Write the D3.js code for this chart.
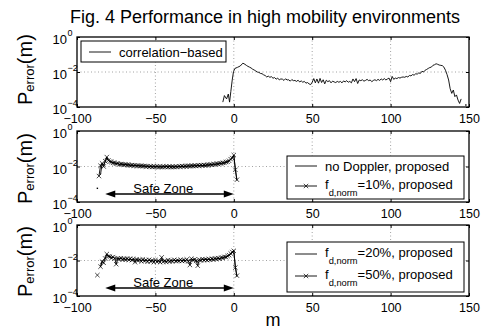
<!DOCTYPE html>
<html><head><meta charset="utf-8">
<script src="https://cdn.jsdelivr.net/npm/d3@7"></script>
<style>body{margin:0;background:#fff}svg{display:block}text{font-family:"Liberation Sans",Arial,Helvetica,sans-serif;fill:#000}</style>
</head><body><svg id="c" width="485" height="329"></svg>
<script>
// ---------------- data ----------------
const xTicks = [-100, -50, 0, 50, 100, 150];
const yTicks = [1e-4, 1e-2, 1];
const yTickExp = ["\u22124", "\u22122", "0"];
const gridX = [-50, 0, 50, 100];
const gridY = [1e-2];

// panel 1: correlation-based
const corrX = [-7,-6,-4.6,-3.5,-2.7,-1.9,-1,-0.2,0.7,2.4,4.1,5.8,7.1,
  8,9,10,11,12,13,14,15,16,17,18,19,20,21,22,23,24,25,26,27,28,29,30,
  31,32,33,34,35,36,37,38,39,40,41,42,43,44,45,46,47,48,49,50,
  51,52,53,54,55,56,57,58,59,60,61,62,63,64,65,66,67,68,69,70,
  71,72,73,74,75,76,77,78,79,80,81,82,83,84,85,86,87,88,89,90,
  91,92,93,94,95,96,97,98,99,100,101,102,103,104,105,106,107,108,109,110,
  111,112,113,114,115,116,117,118,119,120,121,122,123,124,125,126,127,128,129,130,
  131,132,133,134,135,136,137,138,139,140,141,142,143,144,145,146,148];
const corrY = [1.9e-4,4.5e-4,2.9e-4,5.5e-4,1.9e-4,7.6e-4,3.5e-3,1.05e-2,1.6e-2,1.85e-2,2.2e-2,3.2e-2,2.75e-2,
  2.4e-2,2.1e-2,1.9e-2,1.7e-2,1.45e-2,1.3e-2,1.15e-2,1.0e-2,9.5e-3,8.3e-3,8.0e-3,6.9e-3,6.3e-3,5.2e-3,5.8e-3,5.0e-3,5.4e-3,4.4e-3,4.8e-3,3.9e-3,4.4e-3,3.6e-3,4.0e-3,
  3.9e-3,3.3e-3,4.1e-3,3.5e-3,3.6e-3,3.0e-3,3.7e-3,3.2e-3,3.3e-3,2.9e-3,3.4e-3,2.7e-3,3.1e-3,2.6e-3,2.9e-3,2.3e-3,2.5e-3,2.1e-3,1.9e-3,2.6e-3,
  4.2e-3,2.4e-3,4.0e-3,2.3e-3,4.3e-3,2.5e-3,3.6e-3,2.1e-3,3.4e-3,2.8e-3,3.2e-3,2.4e-3,3.0e-3,2.7e-3,2.5e-3,2.9e-3,2.6e-3,2.9e-3,2.4e-3,3.1e-3,
  2.7e-3,3.2e-3,2.6e-3,2.9e-3,2.4e-3,4.0e-3,2.8e-3,4.2e-3,2.2e-3,3.5e-3,3.2e-3,3.6e-3,3.0e-3,3.3e-3,3.8e-3,3.2e-3,3.5e-3,2.8e-3,3.3e-3,3.6e-3,
  3.2e-3,3.8e-3,3.3e-3,4.0e-3,3.5e-3,4.2e-3,3.5e-3,4.0e-3,4.5e-3,2.8e-3,5.6e-3,3.8e-3,4.5e-3,4.2e-3,4.8e-3,4.5e-3,5.0e-3,5.2e-3,5.0e-3,5.6e-3,
  5.2e-3,6.3e-3,6.0e-3,7.1e-3,6.6e-3,7.9e-3,7.6e-3,8.9e-3,8.3e-3,1.1e-2,1.0e-2,1.26e-2,1.4e-2,1.6e-2,1.8e-2,1.9e-2,2.4e-2,2.6e-2,2.95e-2,2.75e-2,
  2.5e-2,2.4e-2,2.3e-2,1.9e-2,1.26e-2,7.1e-3,3.5e-3,1.1e-3,6.0e-4,9.3e-4,3.9e-4,4.9e-4,2.5e-4,1.6e-4,2.9e-4,null,1.3e-4];

// panels 2 and 3 share the same positions
const posX = [-87,-86,-85,-84,-83,-82,-81,-80,-79,-78,
  -77,-76,-75,-74,-73,-72,-71,-70,-69,-68,
  -67,-66,-65,-64,-63,-62,-61,-60,-59,-58,
  -57,-56,-55,-54,-53,-52,-51,-50,-49,-48,
  -47,-46,-45,-44,-43,-42,-41,-40,-39,-38,
  -37,-36,-35,-34,-33,-32,-31,-30,-29,-28,
  -27,-26,-25,-24,-23,-22,-21,-20,-19,-18,
  -17,-16,-15,-14,-13,-12,-11,-10,-9,-8,
  -7,-6,-5,-4,-3,-2,-1,0,1,2];
const noDopplerY = [5.9e-4,null,3.5e-3,1.5e-2,1.2e-2,1.9e-2,3.2e-2,2.3e-2,2.0e-2,1.75e-2,
  1.7e-2,1.55e-2,1.5e-2,1.45e-2,1.35e-2,1.4e-2,1.3e-2,1.32e-2,1.25e-2,1.28e-2,
  1.2e-2,1.22e-2,1.15e-2,1.18e-2,1.12e-2,1.15e-2,1.1e-2,1.12e-2,1.05e-2,1.1e-2,
  1.02e-2,1.06e-2,1.0e-2,1.04e-2,9.8e-3,1.02e-2,9.6e-3,1.0e-2,9.7e-3,1.0e-2,
  9.5e-3,9.9e-3,9.6e-3,1.0e-2,9.7e-3,1.01e-2,9.6e-3,9.9e-3,9.5e-3,9.8e-3,
  9.6e-3,1.0e-2,9.7e-3,1.02e-2,9.9e-3,1.04e-2,1.0e-2,1.05e-2,1.02e-2,1.07e-2,
  1.04e-2,1.09e-2,1.06e-2,1.12e-2,1.08e-2,1.14e-2,1.1e-2,1.16e-2,1.12e-2,1.2e-2,
  1.16e-2,1.24e-2,1.2e-2,1.3e-2,1.25e-2,1.35e-2,1.32e-2,1.45e-2,1.4e-2,1.55e-2,
  1.5e-2,1.7e-2,1.65e-2,1.9e-2,2.0e-2,2.4e-2,3.2e-2,4.2e-2,7.0e-3,1.6e-3];
const fd10Y = [null,2.9e-3,1.1e-2,1.5e-2,1.0e-2,2.0e-2,3.4e-2,2.2e-2,1.9e-2,1.8e-2,
  1.6e-2,1.6e-2,1.45e-2,1.5e-2,1.3e-2,1.38e-2,1.33e-2,1.25e-2,1.3e-2,1.2e-2,
  1.25e-2,1.15e-2,1.2e-2,1.1e-2,1.16e-2,1.08e-2,1.13e-2,1.06e-2,1.1e-2,1.03e-2,
  1.08e-2,9.9e-3,1.05e-2,9.6e-3,1.03e-2,9.4e-3,1.01e-2,9.5e-3,1.02e-2,9.3e-3,
  9.9e-3,9.2e-3,1.0e-2,9.4e-3,1.02e-2,9.3e-3,1.0e-2,9.2e-3,9.9e-3,9.3e-3,
  1.01e-2,9.4e-3,1.03e-2,9.7e-3,1.06e-2,9.8e-3,1.08e-2,1.0e-2,1.1e-2,1.02e-2,
  1.12e-2,1.05e-2,1.14e-2,1.07e-2,1.17e-2,1.1e-2,1.19e-2,1.13e-2,1.22e-2,1.15e-2,
  1.26e-2,1.19e-2,1.3e-2,1.24e-2,1.38e-2,1.3e-2,1.42e-2,1.38e-2,1.52e-2,1.47e-2,
  1.62e-2,1.6e-2,1.8e-2,1.85e-2,2.1e-2,2.6e-2,3.0e-2,4.4e-2,6.5e-3,1.8e-3];
const fd20Y = [null,null,4.5e-3,9.0e-3,1.1e-2,1.4e-2,2.2e-2,1.8e-2,1.6e-2,1.55e-2,
  1.5e-2,1.4e-2,1.3e-2,1.35e-2,1.25e-2,1.3e-2,1.2e-2,1.28e-2,1.18e-2,1.22e-2,
  1.15e-2,1.2e-2,1.12e-2,1.16e-2,1.08e-2,1.14e-2,1.05e-2,1.12e-2,1.04e-2,1.1e-2,
  1.02e-2,1.08e-2,9.8e-3,1.05e-2,9.6e-3,1.02e-2,9.4e-3,1.0e-2,9.2e-3,9.9e-3,
  9.0e-3,1.1e-2,9.3e-3,1.0e-2,9.1e-3,9.8e-3,9.4e-3,1.01e-2,9.5e-3,1.03e-2,
  9.6e-3,1.04e-2,9.8e-3,1.06e-2,9.9e-3,1.07e-2,1.0e-2,1.08e-2,1.02e-2,1.1e-2,
  1.0e-2,1.12e-2,1.04e-2,1.1e-2,9.0e-3,1.12e-2,1.05e-2,1.14e-2,1.08e-2,1.16e-2,
  1.1e-2,1.18e-2,1.12e-2,1.22e-2,1.15e-2,1.25e-2,1.2e-2,1.3e-2,1.26e-2,1.38e-2,
  1.35e-2,1.5e-2,1.5e-2,1.7e-2,1.9e-2,2.2e-2,2.8e-2,3.4e-2,4.5e-3,1.2e-3];
const fd50Y = [1.5e-3,null,4.5e-3,8.5e-3,7.5e-3,1.3e-2,2.3e-2,1.7e-2,1.65e-2,1.4e-2,
  1.55e-2,1.3e-2,6.2e-3,1.3e-2,1.2e-2,1.35e-2,1.15e-2,1.25e-2,1.1e-2,1.3e-2,
  1.1e-2,1.25e-2,1.05e-2,1.2e-2,8.0e-3,1.15e-2,1.0e-2,1.1e-2,9.0e-3,1.15e-2,
  9.5e-3,1.05e-2,8.5e-3,1.1e-2,9.0e-3,1.0e-2,8.0e-3,1.05e-2,8.5e-3,9.5e-3,
  8.0e-3,1.5e-2,8.5e-3,9.5e-3,8.2e-3,1.05e-2,8.8e-3,9.8e-3,9.0e-3,1.1e-2,
  9.2e-3,1.0e-2,9.5e-3,1.1e-2,9.4e-3,1.05e-2,9.6e-3,1.15e-2,9.0e-3,5.6e-3,
  1.25e-2,1.05e-2,1.15e-2,9.5e-3,5.1e-3,1.1e-2,1.0e-2,1.2e-2,1.05e-2,1.15e-2,
  1.05e-2,1.2e-2,1.1e-2,1.25e-2,1.15e-2,1.3e-2,1.2e-2,1.35e-2,1.25e-2,1.45e-2,
  1.4e-2,1.6e-2,1.55e-2,1.8e-2,2.0e-2,2.5e-2,3.0e-2,3.5e-2,4.0e-3,1.4e-3];

const safeZoneX = [-82, 0];
const safeZoneLevel = 2.8e-4;
const safeZoneLabelX = -45;

// ---------------- drawing ----------------
const svg = d3.select("#c");
const x = d3.scaleLinear().domain([-100, 150]).range([77, 469]);

const panels = [
  {top: 37, bottom: 107, labelBottom: 105,
   series: [{xs: corrX, ys: corrY, marker: false}],
   legend: {x0: 81, x1: 226, y0: 41, y1: 62, rows: [{y: 52, marker: false, main: "correlation\u2212based"}]},
   safe: false},
  {top: 131, bottom: 202, labelBottom: 204,
   series: [{xs: posX, ys: noDopplerY, marker: false}, {xs: posX, ys: fd10Y, marker: true}],
   legend: {x0: 287, x1: 464, y0: 156, y1: 199, rows: [
     {y: 166, marker: false, main: "no Doppler, proposed"},
     {y: 186, marker: true, f: true, main: "=10%, proposed"}]},
   safe: true},
  {top: 225, bottom: 296, labelBottom: 297,
   series: [{xs: posX, ys: fd20Y, marker: false}, {xs: posX, ys: fd50Y, marker: true}],
   legend: {x0: 287, x1: 464, y0: 242, y1: 292, rows: [
     {y: 254, marker: false, f: true, main: "=20%, proposed"},
     {y: 276, marker: true, f: true, main: "=50%, proposed"}]},
   safe: true}
];

const xMark = "M-2.2,-2.2L2.2,2.2M-2.2,2.2L2.2,-2.2";

// title
svg.append("text").attr("x", 265).attr("y", 23).attr("text-anchor", "middle")
  .style("font-size", "18px").text("Fig. 4 Performance in high mobility environments");

// vertical label drawn glyph by glyph (each glyph rotated -90deg)
function verticalLabel(xBase, yBottom) {
  const parts = [["P", 20, 0], ["error", 13, 2], ["(m)", 20, 0]];
  let yy = yBottom;
  parts.forEach(([s, fs, off]) => {
    const tmp = svg.append("text").style("font-size", fs + "px");
    const ys = [];
    s.split("").forEach(c => {
      tmp.text(c);
      ys.push(yy);
      yy -= tmp.node().getComputedTextLength();
    });
    tmp.remove();
    svg.append("text").style("font-size", fs + "px")
      .attr("x", ys.map(() => xBase + off).join(" "))
      .attr("y", ys.join(" "))
      .attr("rotate", ys.map(() => -90).join(" "))
      .text(s);
  });
}

panels.forEach((p, pi) => {
  const y = d3.scaleLog().domain([1e-4, 1]).range([p.bottom, p.top]);
  const g = svg.append("g");
  const clipId = "clip" + pi;
  svg.append("clipPath").attr("id", clipId).append("rect")
    .attr("x", x(-100)).attr("y", y(1)).attr("width", x(150) - x(-100)).attr("height", y(1e-4) - y(1));

  // grid
  g.selectAll(".gx").data(gridX).join("line")
    .attr("x1", d => x(d)).attr("x2", d => x(d)).attr("y1", y(1)).attr("y2", y(1e-4))
    .attr("stroke", "#8a8a8a").attr("stroke-width", 0.8).attr("stroke-dasharray", "1,2.5");
  g.selectAll(".gy").data(gridY).join("line")
    .attr("y1", d => y(d)).attr("y2", d => y(d)).attr("x1", x(-100)).attr("x2", x(150))
    .attr("stroke", "#8a8a8a").attr("stroke-width", 0.8).attr("stroke-dasharray", "1,2.5");

  // axes (ticks inside)
  const ax = g.append("g").attr("transform", `translate(0,${p.bottom})`)
    .call(d3.axisBottom(x).tickValues(xTicks).tickSizeInner(-3).tickSizeOuter(0).tickPadding(7));
  ax.select(".domain").remove();
  ax.selectAll("text").style("font-size", "12.5px").style("font-family", "'Liberation Sans',Arial,sans-serif").attr("fill", "#000");
  ax.selectAll("line").attr("stroke", "#000");
  const axT = g.append("g").attr("transform", `translate(0,${p.top})`)
    .call(d3.axisTop(x).tickValues(xTicks).tickSizeInner(-3).tickSizeOuter(0).tickFormat(""));
  axT.select(".domain").remove();
  const ay = g.append("g").attr("transform", `translate(${x(-100)},0)`)
    .call(d3.axisLeft(y).tickValues(yTicks).tickSizeInner(-3).tickSizeOuter(0).tickFormat(""));
  ay.select(".domain").remove();
  const ayR = g.append("g").attr("transform", `translate(${x(150)},0)`)
    .call(d3.axisRight(y).tickValues(yTicks).tickSizeInner(-3).tickSizeOuter(0).tickFormat(""));
  ayR.select(".domain").remove();

  // y tick labels 10^k
  yTicks.forEach((t, i) => {
    const ty = y(t);
    g.append("text").attr("x", 67).attr("y", ty + 7).attr("text-anchor", "end")
      .style("font-size", "13px").text("10");
    g.append("text").attr("x", 67.5).attr("y", ty - 1)
      .style("font-size", "9px").text(yTickExp[i]);
  });

  // series
  const line = d3.line().defined(d => d[1] != null).x(d => x(d[0])).y(d => y(d[1]));
  const plot = g.append("g").attr("clip-path", `url(#${clipId})`);
  p.series.forEach(s => {
    const pts = s.xs.map((v, i) => [v, s.ys[i]]);
    plot.append("path").datum(pts).attr("d", line).attr("fill", "none")
      .attr("stroke", "#000").attr("stroke-width", 0.9);
    pts.forEach((d, i) => {
      if (d[1] == null) return;
      const prev = i > 0 ? pts[i - 1][1] : null, next = i < pts.length - 1 ? pts[i + 1][1] : null;
      if (prev == null && next == null && !s.marker)
        plot.append("rect").attr("x", x(d[0]) - 0.7).attr("y", y(d[1]) - 0.7)
          .attr("width", 1.4).attr("height", 1.4).attr("fill", "#000");
    });
    if (s.marker) {
      plot.selectAll(null).data(pts.filter(d => d[1] != null)).join("path")
        .attr("d", xMark).attr("transform", d => `translate(${x(d[0])},${y(d[1])})`)
        .attr("stroke", "#000").attr("stroke-width", 0.7).attr("fill", "none");
    }
  });

  // border
  g.append("rect").attr("x", x(-100)).attr("y", y(1)).attr("width", x(150) - x(-100))
    .attr("height", y(1e-4) - y(1)).attr("fill", "none").attr("stroke", "#000").attr("stroke-width", 1.3);

  // safe zone arrow
  if (p.safe) {
    const ay0 = y(safeZoneLevel), xa = x(safeZoneX[0]), xb = x(safeZoneX[1]);
    g.append("line").attr("x1", xa + 6).attr("x2", xb - 6).attr("y1", ay0).attr("y2", ay0)
      .attr("stroke", "#000").attr("stroke-width", 1.6);
    g.append("path").attr("d", `M${xa},${ay0}L${xa + 10},${ay0 - 3.5}L${xa + 10},${ay0 + 3.5}Z`).attr("fill", "#000");
    g.append("path").attr("d", `M${xb},${ay0}L${xb - 10},${ay0 - 3.5}L${xb - 10},${ay0 + 3.5}Z`).attr("fill", "#000");
    g.append("text").attr("x", x(safeZoneLabelX)).attr("y", ay0 - 1.5).attr("text-anchor", "middle")
      .style("font-size", "13px").text("Safe Zone");
  }

  // legend
  const L = p.legend;
  g.append("rect").attr("x", L.x0).attr("y", L.y0).attr("width", L.x1 - L.x0).attr("height", L.y1 - L.y0)
    .attr("fill", "#fff").attr("stroke", "#000").attr("stroke-width", 1);
  L.rows.forEach(r => {
    const lx0 = L.x0 + 8, lx1 = L.x0 + 30;
    g.append("line").attr("x1", lx0).attr("x2", lx1).attr("y1", r.y).attr("y2", r.y)
      .attr("stroke", "#000").attr("stroke-width", 0.9);
    if (r.marker) g.append("path").attr("d", xMark).attr("transform", `translate(${(lx0 + lx1) / 2},${r.y})`)
      .attr("stroke", "#000").attr("stroke-width", 0.7);
    const t = g.append("text").attr("x", L.x0 + 38).attr("y", r.f ? r.y + 3 : r.y + 4.5).style("font-size", "13px");
    if (r.f) {
      t.append("tspan").text("f");
      t.append("tspan").attr("dy", 7).style("font-size", "9.3px").text("d,norm");
      t.append("tspan").attr("dy", -7).text(r.main);
    } else t.text(r.main);
  });

  verticalLabel(32, p.labelBottom);
});

// x label
svg.append("text").attr("x", 273).attr("y", 326).attr("text-anchor", "middle")
  .style("font-size", "18px").text("m");
</script>
</body></html>
